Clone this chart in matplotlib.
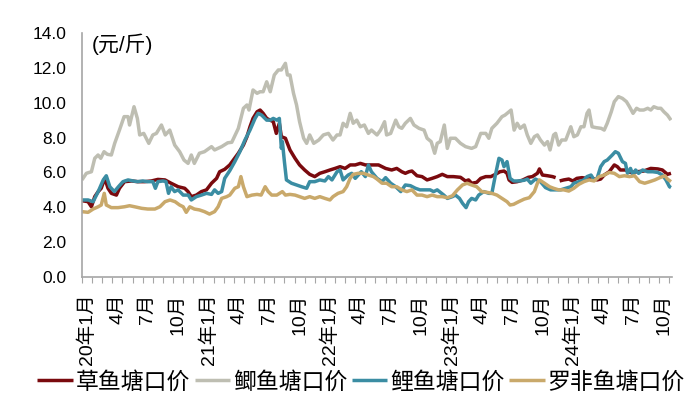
import numpy as np
import matplotlib
matplotlib.use("Agg")
import matplotlib.pyplot as plt

plt.rcParams['font.family'] = ['Liberation Sans', 'Noto Sans CJK SC', 'DejaVu Sans']

# x values: months since Jan 2020 (0 = 2020-01)
grass_x = [-0.5, 0.1, 0.43, 0.76, 1.1, 1.4, 1.75, 2.07, 2.4, 2.9, 3.2, 3.7, 4.4, 5.0, 5.7, 6.35, 7.0, 7.7, 8.3, 9.0,
           9.65, 9.98, 10.3, 10.8, 11.3, 11.8, 12.3, 12.8, 13.1, 13.6, 14.1, 14.45, 14.95, 15.45, 15.8, 16.1, 16.4,
           16.8, 17.1, 17.4, 17.75, 18.1, 18.4, 18.7, 19.0, 19.2, 19.6, 20.05, 20.55, 21.0, 21.5, 22.0, 22.5, 23.0,
           23.5, 24.0, 24.5, 25.0, 25.5, 26.0, 26.5, 27.0, 27.5, 28.1, 28.8, 29.5, 30.1, 30.6, 31.1, 31.45, 31.8,
           32.1, 32.6, 33.1, 33.6, 34.1, 34.6, 35.1, 35.6, 36.2, 36.9, 37.4, 37.7, 38.0, 38.5, 38.9, 39.4, 39.9,
           40.35, 40.8, 41.2, 41.5, 41.7, 42.0, 42.5, 43.0, 43.6, 44.0, 44.5, 44.7, 45.0, 45.5, 46.0, 46.3, 46.5,
           46.7, 47.1, 47.6, 48.0, 48.4, 48.9, 49.4, 49.9, 50.4, 50.75, 51.1, 51.6, 52.1, 52.4, 52.7, 53.2, 53.7,
           54.4, 55.0, 55.7, 56.4, 56.85, 57.35, 57.7]
grass_y = [4.38, 4.32, 4.03, 4.61, 4.9, 5.09, 5.66, 5.09, 4.8, 4.7, 5.09, 5.47, 5.51, 5.47, 5.47, 5.51, 5.6, 5.57, 5.38,
           5.18, 5.09, 4.9, 4.61, 4.7, 4.9, 5.0, 5.38, 5.66, 6.04, 6.18, 6.43, 6.71, 7.1, 7.57, 8.05, 8.62, 9.1, 9.48,
           9.58, 9.39, 9.1, 9.0, 8.91, 8.24, 8.82, 8.05, 7.96, 7.29, 6.81, 6.43, 6.14, 5.89, 5.76, 5.95, 6.04, 6.14,
           6.23, 6.33, 6.23, 6.43, 6.43, 6.52, 6.43, 6.43, 6.43, 6.23, 6.14, 6.23, 6.04, 5.95, 6.04, 6.08, 5.81, 5.76,
           5.57, 5.66, 5.76, 5.89, 5.76, 5.76, 5.72, 5.51, 5.57, 5.38, 5.43, 5.66, 5.76, 5.76, 5.89, 6.04, 6.08, 5.95,
           5.57, 5.43, 5.47, 5.55, 5.72, 5.76, 5.95, 6.2, 5.85, 5.81, 5.76, 5.7, np.nan, 5.51, 5.57, 5.62, 5.51, 5.66,
           5.7, 5.66, 5.66, 5.57, 5.62, 5.85, 6.04, 6.43, 6.33, 6.14, 6.14, 6.0, 6.04, 6.08, 6.23, 6.2, 6.14, 5.89,
           5.95]

crucian_x = [-0.5, -0.07, 0.43, 0.76, 1.09, 1.35, 1.68, 2.0, 2.4, 2.73, 3.2, 3.66, 4.05, 4.2, 4.64, 4.97, 5.2, 5.6,
             6.1, 6.5, 6.85, 7.35, 7.73, 8.17, 8.66, 9.15, 9.58, 9.98, 10.3, 10.6, 11.1, 11.6, 12.3, 12.6, 13.3, 13.9,
             14.3, 14.95, 15.45, 15.8, 16.0, 16.4, 16.8, 17.1, 17.4, 17.75, 18.1, 18.5, 18.9, 19.2, 19.6, 19.8, 20.05,
             20.4, 20.7, 21.0, 21.4, 21.7, 22.0, 22.4, 22.9, 23.35, 23.85, 24.3, 24.7, 25.0, 25.3, 25.65, 26.0, 26.3,
             26.65, 27.0, 27.4, 27.8, 28.1, 28.65, 29.0, 29.4, 29.6, 30.0, 30.5, 30.8, 31.1, 31.45, 31.95, 32.3, 32.8,
             33.3, 33.6, 34.0, 34.35, 34.6, 34.9, 35.3, 35.6, 35.9, 36.4, 36.9, 37.4, 38.0, 38.4, 38.9, 39.4, 39.7,
             40.0, 40.5, 41.0, 41.3, 41.7, 41.9, 42.2, 42.5, 42.8, 43.2, 43.5, 43.85, 44.2, 44.5, 44.8, 45.2, 45.5,
             45.75, 46.1, 46.3, 46.6, 46.9, 47.3, 47.8, 48.1, 48.45, 48.8, 49.1, 49.4, 49.6, 49.9, 50.3, 50.8, 51.1,
             51.4, 51.8, 52.1, 52.5, 52.9, 53.3, 53.6, 53.95, 54.3, 54.6, 55.0, 55.4, 55.7, 56.0, 56.4, 56.7, 57.0,
             57.35, 57.7]
crucian_y = [5.57, 5.95, 6.04, 6.81, 7.0, 6.81, 7.19, 7.04, 7.0, 7.67, 8.43, 9.2, 9.2, 8.72, 9.77, 9.1, 8.15, 8.24,
             7.67, 8.15, 8.24, 8.72, 8.15, 8.43, 7.57, 7.19, 6.71, 6.52, 7.0, 6.52, 7.1, 7.19, 7.48, 7.29, 7.48, 7.7,
             7.73, 8.53, 9.68, 9.87, 9.58, 10.73, 10.54, 10.63, 10.63, 11.2, 10.63, 11.59, 11.88, 11.88, 12.26, 11.59,
             11.59, 10.54, 9.87, 8.91, 7.96, 7.67, 8.15, 7.67, 7.86, 8.15, 8.24, 7.86, 8.15, 8.15, 8.82, 8.62, 9.39,
             8.82, 9.0, 8.62, 8.72, 8.24, 8.43, 8.15, 8.43, 8.91, 8.15, 8.24, 9.0, 8.62, 8.53, 8.82, 9.1, 8.72, 8.53,
             8.43, 7.96, 7.77, 7.1, 7.67, 7.77, 8.72, 7.38, 7.96, 7.96, 7.67, 7.48, 7.38, 7.48, 8.24, 8.24, 7.96, 8.53,
             8.82, 9.2, 9.29, 9.48, 9.58, 8.43, 8.82, 8.53, 8.72, 8.15, 7.67, 8.05, 8.15, 7.86, 7.57, 7.77, 7.29, 8.15,
             8.24, 7.57, 7.86, 7.86, 8.62, 8.05, 8.15, 8.62, 8.62, 9.39, 9.58, 8.62, 8.57, 8.53, 8.43, 8.82, 9.48, 10.06,
             10.35, 10.25, 10.06, 9.77, 9.39, 9.68, 9.58, 9.58, 9.68, 9.58, 9.77, 9.68, 9.68, 9.48, 9.29, 9.0]

carp_x = [-0.5, 0.1, 0.6, 1.1, 1.6, 1.9, 2.25, 2.7, 3.1, 3.55, 4.05, 4.55, 5.0, 5.5, 6.0, 6.5, 6.75, 7.0, 7.5, 7.8,
          8.05, 8.3, 8.65, 9.0, 9.5, 10.0, 10.3, 10.8, 11.3, 11.8, 12.3, 12.6, 12.95, 13.3, 13.6, 14.1, 14.6, 15.1,
          15.6, 16.1, 16.6, 16.9, 17.25, 17.75, 18.1, 18.4, 18.75, 19.0, 19.2, 19.3, 19.5, 19.7, 20.2, 20.7, 21.2,
          21.7, 22.0, 22.5, 23.0, 23.5, 23.85, 24.2, 24.7, 25.0, 25.3, 25.8, 26.15, 26.5, 26.8, 27.1, 27.5, 27.8,
          28.1, 28.65, 29.15, 29.5, 30.0, 30.5, 31.0, 31.45, 31.95, 32.45, 32.9, 33.4, 33.9, 34.25, 34.6, 34.9,
          35.25, 35.6, 36.1, 36.4, 36.8, 37.1, 37.45, 37.7, 38.0, 38.4, 38.7, 39.2, 39.7, 40.0, 40.35, 40.7, 41.0,
          41.2, 41.5, 41.8, 42.15, 42.65, 43.2, 43.5, 43.85, 44.3, 44.8, 45.3, 45.8, 46.3, 46.8, 47.3, 47.8, 48.1,
          48.6, 49.1, 49.4, 49.8, 50.1, 50.4, 50.75, 51.1, 51.4, 51.9, 52.2, 52.5, 52.9, 53.2, 53.4, 53.7, 53.95,
          54.2, 54.5, 54.9, 55.4, 55.9, 56.4, 56.85, 57.2, 57.55, 57.7]
carp_y = [4.42, 4.42, 4.32, 4.9, 5.57, 5.81, 5.18, 4.9, 5.18, 5.47, 5.57, 5.51, 5.47, 5.51, 5.47, 5.47, 5.09, 5.47,
          5.51, 5.47, 4.8, 5.18, 4.9, 5.0, 4.7, 4.7, 4.42, 4.61, 4.7, 4.8, 4.74, 5.0, 4.8, 4.9, 5.66, 6.1, 6.62, 7.19,
          7.86, 8.43, 9.1, 9.39, 9.29, 9.0, 9.0, 9.1, 9.0, 9.1, 7.38, 7.77, 6.62, 5.57, 5.38, 5.28, 5.18, 5.09, 5.47,
          5.47, 5.57, 5.51, 5.76, 5.57, 6.04, 6.14, 5.57, 5.85, 5.95, 5.66, 5.85, 6.04, 5.76, 6.43, 6.04, 5.66, 5.47,
          5.7, 5.38, 5.18, 4.9, 5.28, 5.24, 5.09, 5.0, 5.0, 5.0, 4.9, 5.0, 4.86, 4.7, 4.51, 4.61, 4.7, 4.51, 4.23,
          3.98, 4.32, 4.51, 4.42, 4.7, 4.9, 4.8, 4.8, 5.85, 6.81, 6.71, 6.33, 6.62, 5.66, 5.51, 5.51, 5.55, 5.62,
          5.38, 5.62, 5.47, 5.13, 5.0, 5.0, 5.0, 5.09, 5.18, 5.38, 5.47, 5.57, 5.76, 5.85, 5.57, 5.66, 6.33, 6.62,
          6.71, 7.0, 7.19, 7.1, 6.62, 6.52, 5.95, 6.23, 5.85, 6.14, 5.95, 6.14, 6.04, 6.04, 6.0, 5.85, 5.57, 5.18,
          5.13]

tilapia_x = [-0.5, 0.1, 0.6, 1.1, 1.4, 1.7, 1.9, 2.4, 3.06, 3.7, 4.2, 4.7, 5.4, 6.0, 6.7, 7.2, 7.7, 8.2, 8.7, 9.15,
             9.5, 9.8, 10.15, 10.6, 11.1, 11.6, 12.1, 12.6, 12.95, 13.3, 13.8, 14.1, 14.6, 14.95, 15.2, 15.45, 15.8,
             16.3, 16.8, 17.2, 17.6, 17.9, 18.25, 18.75, 19.3, 19.6, 20.05, 20.55, 21.0, 21.5, 22.0, 22.5, 23.0, 23.5,
             24.0, 24.3, 24.8, 25.3, 25.65, 26.0, 26.3, 26.8, 27.3, 27.8, 28.3, 28.65, 29.15, 29.6, 30.1, 30.6, 31.1,
             31.6, 32.1, 32.6, 33.1, 33.6, 34.1, 34.6, 35.1, 35.6, 36.1, 36.6, 37.1, 37.55, 38.0, 38.5, 39.0, 39.5,
             40.0, 40.5, 41.0, 41.5, 41.8, 42.15, 42.65, 43.2, 43.7, 44.2, 44.5, 44.7, 45.2, 45.7, 46.1, 46.6, 47.1,
             47.6, 48.1, 48.6, 49.1, 49.6, 50.1, 50.6, 51.1, 51.6, 52.1, 52.6, 53.1, 53.6, 54.1, 54.6, 55.1, 55.6,
             56.1, 56.6, 57.1, 57.35, 57.7]
tilapia_y = [3.75, 3.71, 3.9, 4.03, 4.13, 4.8, 4.13, 3.98, 3.98, 4.03, 4.09, 4.03, 3.94, 3.9, 3.9, 4.03, 4.32, 4.42,
             4.32, 4.13, 4.03, 3.71, 4.03, 3.9, 3.85, 3.75, 3.61, 3.75, 4.03, 4.51, 4.61, 4.7, 5.09, 5.18, 5.76, 5.18,
             4.61, 4.7, 4.74, 4.7, 5.18, 4.9, 4.7, 4.7, 4.9, 4.7, 4.74, 4.7, 4.61, 4.51, 4.61, 4.51, 4.61, 4.51, 4.42,
             4.61, 4.8, 4.9, 5.18, 5.66, 5.89, 5.95, 5.95, 5.85, 5.76, 5.62, 5.38, 5.38, 5.18, 5.18, 5.0, 4.9, 5.0,
             4.7, 4.7, 4.61, 4.7, 4.61, 4.61, 4.55, 4.66, 5.0, 5.28, 5.38, 5.28, 5.18, 4.9, 4.86, 4.8, 4.7, 4.51, 4.32,
             4.13, 4.17, 4.32, 4.47, 4.55, 4.9, 5.38, 5.57, 5.38, 5.18, 5.09, 5.0, 5.0, 4.93, 5.09, 5.32, 5.47, 5.57,
             5.51, 5.76, 5.85, 6.0, 5.95, 5.76, 5.81, 5.76, 5.81, 5.47, 5.38, 5.47, 5.57, 5.7, 5.81, 5.62, 5.47]

series_names = ["草鱼塘口价", "鲫鱼塘口价", "鲤鱼塘口价", "罗非鱼塘口价"]
colors = ["#7A0A0E", "#BEBEB2", "#3B8DA3", "#C9A96B"]

tick_months = list(range(0, 58, 3))
tick_labels = ["20年1月", "4月", "7月", "10月", "21年1月", "4月", "7月", "10月",
               "22年1月", "4月", "7月", "10月", "23年1月", "4月", "7月", "10月",
               "24年1月", "4月", "7月", "10月"]
yticks = [0, 2, 4, 6, 8, 10, 12, 14]

fig = plt.figure(figsize=(7.0, 4.12), dpi=100)
ax = fig.add_axes([82/700, 1-277/412, 590/700, 244/412])

data = [(grass_x, grass_y), (crucian_x, crucian_y), (carp_x, carp_y), (tilapia_x, tilapia_y)]
for (xs, ys), name, c in zip(data, series_names, colors):
    ax.plot(xs, ys, color=c, lw=2.5, label=name, solid_joinstyle='round', solid_capstyle='butt')

ax.set_xlim(-0.5, 57.8)
ax.set_ylim(0, 14)
ax.set_yticks(yticks)
ax.set_yticklabels([f"{v:.1f}" for v in yticks], fontsize=12.5)
ax.tick_params(axis='y', length=0, pad=11)

ax.set_xticks(tick_months)
ax.set_xticklabels(tick_labels, rotation=90, fontsize=14, va='top', ha='center')
ax.tick_params(axis='x', which='major', length=0, pad=12)
ax.set_xticks(np.arange(-0.5, 58, 1), minor=True)
ax.tick_params(axis='x', which='minor', length=4, width=0.8, color='#A6A6A6', direction='out')

for s in ['top', 'right']:
    ax.spines[s].set_visible(False)
for s in ['left', 'bottom']:
    ax.spines[s].set_color('#A6A6A6')
    ax.spines[s].set_linewidth(1.2)

fig.text(92/700, 1-44/412, "(元/斤)", fontsize=15, va='center', ha='left')

fig.legend(loc='center', bbox_to_anchor=(361/700, 1-382/412), ncol=4, frameon=False,
           fontsize=16.5, handlelength=1.55, handletextpad=0.12, columnspacing=0.2,
           borderaxespad=0, borderpad=0)

fig.savefig("out.png", dpi=100)
